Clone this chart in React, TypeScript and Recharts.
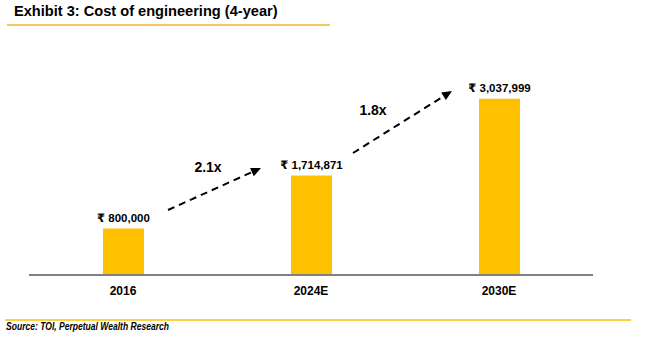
import React from 'react';
import { BarChart, Bar, XAxis, YAxis, LabelList } from 'recharts';

const categories = ['2016', '2024E', '2030E'];
const costValues = [800000, 1714871, 3037999];
const growthLabels = ['2.1x', '1.8x'];

const data = categories.map((c, i) => ({ year: c, cost: costValues[i] }));

const W = 651;
const H = 352;
const FONT = '"Liberation Sans", Arial, "DejaVu Sans", sans-serif';
const BAR = '#FFC000';

const fmt = (v: number) => '\u20B9 ' + v.toLocaleString('en-US');

const Tick = (props: any) => {
  const { x, y, payload } = props;
  return (
    <text x={x} y={y} dy={9} textAnchor="middle" fontFamily={FONT} fontWeight="bold" fontSize={12} fill="#000">
      {payload.value}
    </text>
  );
};

const ValueLabel = (props: any) => {
  const { x, y, width, value } = props;
  return (
    <text x={x + width / 2} y={y - 7} textAnchor="middle" fontFamily={FONT} fontWeight="bold" fontSize={11.5} fill="#000">
      {fmt(value)}
    </text>
  );
};

// annotation arrows (between bars)
const arrows = [
  { x1: 168, y1: 210, x2: 261, y2: 168, lx: 208, ly: 172 },
  { x1: 353, y1: 153, x2: 452, y2: 91, lx: 373, ly: 115 },
];

const Arrow = ({ a, label }: any) => {
  const ang = Math.atan2(a.y2 - a.y1, a.x2 - a.x1);
  const len = 10;
  const hw = 4.5;
  const bx = a.x2 - len * Math.cos(ang);
  const by = a.y2 - len * Math.sin(ang);
  const px = -Math.sin(ang) * hw;
  const py = Math.cos(ang) * hw;
  return (
    <g>
      <line x1={a.x1} y1={a.y1} x2={bx} y2={by} stroke="#000" strokeWidth={2} strokeDasharray="7 5" />
      <polygon points={`${a.x2},${a.y2} ${bx + px},${by + py} ${bx - px},${by - py}`} fill="#000" />
      <text x={a.lx} y={a.ly} textAnchor="middle" fontFamily={FONT} fontWeight="bold" fontSize={14} fill="#000">
        {label}
      </text>
    </g>
  );
};

export default function App() {
  return (
    <div style={{ position: 'absolute', left: 0, top: 0, width: W, height: H, background: '#fff' }}>
      <div style={{ position: 'absolute', left: 0, top: 0 }}>
        <BarChart width={W} height={H} data={data} margin={{ top: 72, right: 58, bottom: 47, left: 29 }}>
          <XAxis
            dataKey="year"
            axisLine={{ stroke: '#808080', strokeWidth: 2 }}
            tickLine={false}
            tickSize={0}
            tickMargin={11}
            height={30}
            tick={<Tick />}
            interval={0}
          />
          <YAxis hide domain={[0, 3500000]} />
          <Bar dataKey="cost" fill={BAR} barSize={41} isAnimationActive={false}>
            <LabelList dataKey="cost" content={<ValueLabel />} />
          </Bar>
        </BarChart>
      </div>
      <svg width={W} height={H} style={{ position: 'absolute', left: 0, top: 0, pointerEvents: 'none' }}>
        <text x={14} y={16} fontFamily={FONT} fontWeight="bold" fontSize={14.6} fill="#000">
          Exhibit 3: Cost of engineering (4-year)
        </text>
        <line x1={7} y1={25} x2={330} y2={25} stroke="#F2B52E" strokeWidth={1.5} />
        {arrows.map((a, i) => (
          <Arrow key={i} a={a} label={growthLabels[i]} />
        ))}
        <line x1={5} y1={320} x2={631} y2={320} stroke="#FFC000" strokeWidth={1.5} />
        <text x={6} y={330} fontFamily={FONT} fontWeight="bold" fontStyle="italic" fontSize={10.5} fill="#000" textLength={163} lengthAdjust="spacingAndGlyphs">
          Source: TOI, Perpetual Wealth Research
        </text>
      </svg>
    </div>
  );
}
